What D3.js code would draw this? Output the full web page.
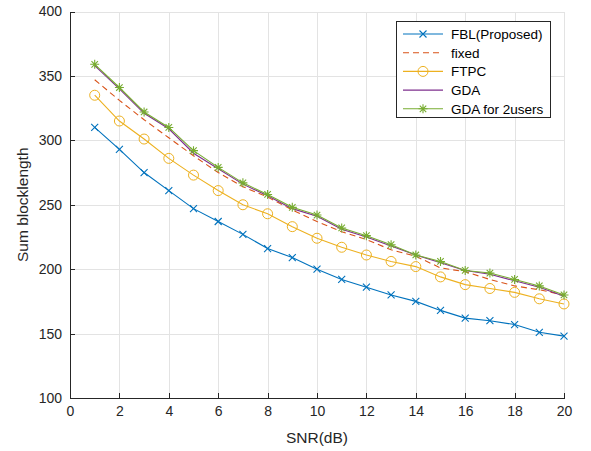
<!DOCTYPE html>
<html>
<head>
<meta charset="UTF-8">
<title>Sum blocklength vs SNR</title>
<script src="https://cdn.jsdelivr.net/npm/d3@7"></script>
<style>
  body { margin: 0; background: #fff; }
  svg { font-family: "Liberation Sans", Arial, sans-serif; }
  .grid line { stroke: #e3e3e3; stroke-width: 1px; shape-rendering: crispEdges; }
  .axis path, .axis line { stroke: #262626; shape-rendering: crispEdges; }
  .axis text { fill: #262626; font-size: 14px; }
</style>
</head>
<body>
<div id="chart"></div>
<script>
// data
var snr = [1, 2, 3, 4, 5, 6, 7, 8, 9, 10, 11, 12, 13, 14, 15, 16, 17, 18, 19, 20];
var fbl   = [310, 293, 275, 261, 247, 237, 227, 216, 209, 200, 192, 186, 180, 175, 168, 162, 160, 157, 151, 148];
var fixed = [347, 331, 316, 302, 288, 275, 264, 256, 246, 237, 229, 223, 215, 210, 201, 198, 192, 187, 184, 180];
var ftpc  = [335, 315, 301, 286, 273, 261, 250, 243, 233, 224, 217, 211, 206, 202, 194, 188, 185, 182, 177, 173];
var gda   = [358, 340, 321, 309, 290, 278, 266, 257, 247, 241, 231, 225, 218, 211, 205, 199, 196, 191, 186, 179];
var gda2  = [359, 341, 322, 310, 292, 279, 267, 258, 248, 242, 232, 226, 219, 211, 206, 199, 197, 192, 187, 180];
var xTicks = [0, 2, 4, 6, 8, 10, 12, 14, 16, 18, 20];
var yTicks = [100, 150, 200, 250, 300, 350, 400];

var series = [
  { name: "FBL(Proposed)", values: fbl, color: "#0072BD", dash: null, marker: "x" },
  { name: "fixed", values: fixed, color: "#D95319", dash: "6,4", marker: null },
  { name: "FTPC", values: ftpc, color: "#EDB120", dash: null, marker: "o" },
  { name: "GDA", values: gda, color: "#7E2F8E", dash: null, marker: null },
  { name: "GDA for 2users", values: gda2, color: "#77AC30", dash: null, marker: "*" }
];

var W = 591, H = 451;
var pL = 70, pR = 564, pT = 11.5, pB = 398;

var x = d3.scaleLinear().domain([0, 20]).range([pL, pR]);
var y = d3.scaleLinear().domain([100, 400]).range([pB, pT]);

var svg = d3.select("#chart").append("svg")
  .attr("width", W).attr("height", H);

// grid
var grid = svg.append("g").attr("class", "grid");
grid.selectAll(".gx").data(xTicks.slice(1)).enter().append("line")
  .attr("x1", function(d) { return Math.round(x(d)) + 0.5; })
  .attr("x2", function(d) { return Math.round(x(d)) + 0.5; })
  .attr("y1", pT).attr("y2", pB);
grid.selectAll(".gy").data(yTicks.slice(1)).enter().append("line")
  .attr("y1", function(d) { return Math.round(y(d)) + 0.5; })
  .attr("y2", function(d) { return Math.round(y(d)) + 0.5; })
  .attr("x1", pL).attr("x2", pR);

// axes, ticks pointing inward
var xAxis = d3.axisBottom(x).tickValues(xTicks).tickSizeInner(-5).tickSizeOuter(0).tickPadding(8);
var yAxis = d3.axisLeft(y).tickValues(yTicks).tickSizeInner(-5).tickSizeOuter(0).tickPadding(8);

svg.append("g").attr("class", "x axis")
  .attr("transform", "translate(0," + pB + ")")
  .call(xAxis);
svg.append("g").attr("class", "y axis")
  .attr("transform", "translate(" + pL + ",0)")
  .call(yAxis);

svg.append("text")
  .attr("x", (pL + pR) / 2).attr("y", 443)
  .attr("text-anchor", "middle")
  .attr("fill", "#262626").style("font-size", "15.5px")
  .text("SNR(dB)");

svg.append("text")
  .attr("transform", "translate(28," + ((pT + pB) / 2) + ") rotate(-90)")
  .attr("text-anchor", "middle")
  .attr("fill", "#262626").style("font-size", "15.5px")
  .text("Sum blocklength");

// markers
function drawMarker(g, type, color, cx, cy) {
  if (type === "x") {
    var s = 3.5;
    g.append("path")
      .attr("d", "M" + (cx - s) + "," + (cy - s) + "L" + (cx + s) + "," + (cy + s) +
                 "M" + (cx - s) + "," + (cy + s) + "L" + (cx + s) + "," + (cy - s))
      .attr("stroke", color).attr("stroke-width", 1.1).attr("fill", "none");
  } else if (type === "o") {
    g.append("circle").attr("cx", cx).attr("cy", cy).attr("r", 5)
      .attr("stroke", color).attr("stroke-width", 1).attr("fill", "none");
  } else if (type === "*") {
    var r = 4.5, d = r * 0.72, p = "";
    p += "M" + cx + "," + (cy - r) + "L" + cx + "," + (cy + r);
    p += "M" + (cx - r) + "," + cy + "L" + (cx + r) + "," + cy;
    p += "M" + (cx - d) + "," + (cy - d) + "L" + (cx + d) + "," + (cy + d);
    p += "M" + (cx - d) + "," + (cy + d) + "L" + (cx + d) + "," + (cy - d);
    g.append("path").attr("d", p)
      .attr("stroke", color).attr("stroke-width", 1.1).attr("fill", "none");
  }
}

var line = d3.line()
  .x(function(d, i) { return x(snr[i]); })
  .y(function(d) { return y(d); });

var plot = svg.append("g").attr("class", "lines");
series.forEach(function(s) {
  var g = plot.append("g");
  g.append("path")
    .attr("d", line(s.values))
    .attr("fill", "none")
    .attr("stroke", s.color)
    .attr("stroke-width", 1.1)
    .attr("stroke-dasharray", s.dash);
  if (s.marker) {
    s.values.forEach(function(v, i) {
      drawMarker(g, s.marker, s.color, x(snr[i]), y(v));
    });
  }
});

// legend
var lg = svg.append("g").attr("class", "legend");
lg.append("rect")
  .attr("x", 396.5).attr("y", 21.5).attr("width", 154).attr("height", 96)
  .attr("fill", "#fff").attr("stroke", "#262626").attr("stroke-width", 1);
series.forEach(function(s, i) {
  var ly = 34 + i * 18.7;
  lg.append("line")
    .attr("x1", 403).attr("x2", 443).attr("y1", ly).attr("y2", ly)
    .attr("stroke", s.color).attr("stroke-width", 1.1)
    .attr("stroke-dasharray", s.dash);
  if (s.marker) drawMarker(lg, s.marker, s.color, 423, ly);
  lg.append("text")
    .attr("x", 451).attr("y", ly + 5)
    .attr("fill", "#000").style("font-size", "13.5px")
    .text(s.name);
});
</script>
</body>
</html>
